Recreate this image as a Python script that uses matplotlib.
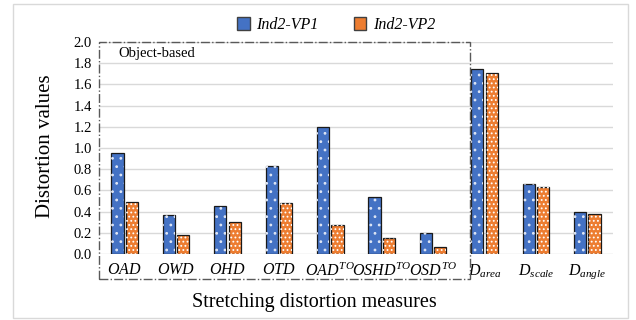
import numpy as np
import matplotlib.pyplot as plt
from matplotlib.patches import Rectangle, Patch
from matplotlib.transforms import blended_transform_factory

plt.rcParams['font.family'] = 'Liberation Serif'
plt.rcParams['mathtext.fontset'] = 'custom'
plt.rcParams['mathtext.it'] = 'Liberation Serif:italic'
plt.rcParams['mathtext.rm'] = 'Liberation Serif'
plt.rcParams['hatch.linewidth'] = 0.8

categories = [r'$OAD$', r'$OWD$', r'$OHD$', r'$OTD$', r'$OAD^{TO}$',
              r'$OSHD^{TO}$', r'$OSD^{TO}$', r'$D_{area}$', r'$D_{scale}$', r'$D_{angle}$']
vp1 = [0.95, 0.37, 0.45, 0.83, 1.20, 0.54, 0.20, 1.75, 0.66, 0.40]
vp2 = [0.49, 0.18, 0.30, 0.48, 0.27, 0.15, 0.065, 1.71, 0.635, 0.375]
series_names = ['Ind2-VP1', 'Ind2-VP2']
yticks = np.arange(0, 2.01, 0.2)

blue = '#4472C4'
orange = '#ED7D31'

fig = plt.figure(figsize=(6.36, 3.2), dpi=100)
ax = fig.add_axes([99/636, 1-254/320, 514/636, 212/320])

x = np.arange(len(categories))
w = 0.235
off = 0.14
ax.bar(x - off, vp1, w, color=blue, edgecolor='#1a1a1a', linewidth=0.9, zorder=3)
ax.bar(x - off, vp1, w, color='none', edgecolor='#dfe6f5', hatch='..', linewidth=0, zorder=4)
ax.bar(x + off, vp2, w, color=orange, edgecolor='#1a1a1a', linewidth=0.9, zorder=3)
ax.bar(x + off, vp2, w, color='none', edgecolor='white', hatch='....', linewidth=0, zorder=4)

ax.set_xlim(-0.5, len(categories) - 0.5)
ax.set_ylim(0, 2.0)
ax.set_yticks(yticks)
ax.set_yticklabels([f'{v:.1f}' for v in yticks], fontsize=10.5)
ax.set_xticks(x)
ax.set_xticklabels(categories, fontsize=11.5)
ax.tick_params(axis='both', length=0, pad=5)
ax.tick_params(axis='x', pad=6)
ax.yaxis.grid(True, color='#D9D9D9', linewidth=1, zorder=0)
ax.set_axisbelow(True)
for s in ax.spines.values():
    s.set_visible(False)

# dash-dot box around object-based measures
tr = blended_transform_factory(ax.transData, ax.transAxes)
ax.add_patch(Rectangle((-0.5, -0.118), 7.22, 1.118, transform=tr, fill=False,
                       linestyle='-.', edgecolor='#595959', linewidth=1.0,
                       clip_on=False, zorder=5))
ax.text(-0.13, 1.89, 'Object-based', fontsize=10.5, va='center', ha='left')

fig.text(45/636, 1-146/320, 'Distortion values', rotation=90, fontsize=15,
         ha='center', va='center')
fig.text(314/636, 1-302/320, 'Stretching distortion measures', fontsize=14.5,
         ha='center', va='center')

handles = [Patch(facecolor=blue, edgecolor='#404040'),
           Patch(facecolor=orange, edgecolor='#404040')]
fig.legend(handles, series_names, loc='center', bbox_to_anchor=(336/636, 1-25/320),
           ncol=2, frameon=False, prop={'style': 'italic', 'size': 11.5},
           handlelength=0.8, handleheight=0.8, columnspacing=2.2, handletextpad=0.4)

fig.patches.append(Rectangle((13/636, 2/320), 615/636, 314/320, transform=fig.transFigure,
                             fill=False, edgecolor='#D9D9D9', linewidth=1))

fig.savefig('out.png', dpi=100)
